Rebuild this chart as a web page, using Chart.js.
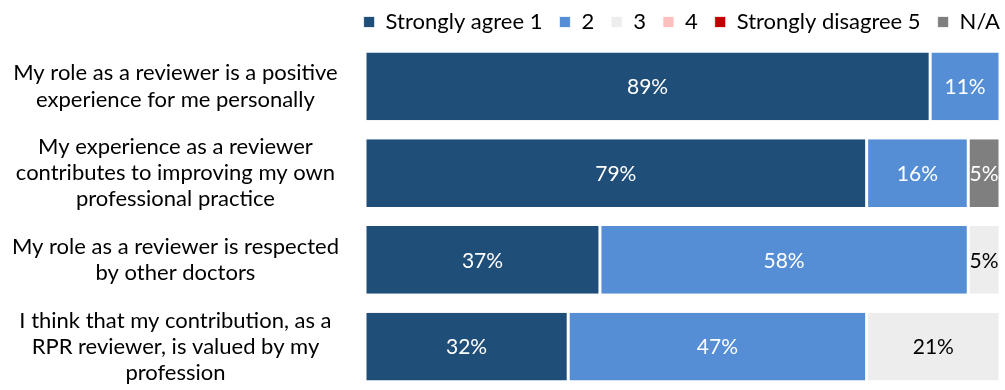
<!DOCTYPE html>
<html>
<head>
<meta charset="utf-8">
<script src="https://cdn.jsdelivr.net/npm/chart.js@4"></script>
<style>
  html, body { margin: 0; padding: 0; background: #fff; }
  #wrap { width: 1005px; height: 390px; }
</style>
</head>
<body>
<div id="wrap"><canvas id="myChart"></canvas></div>
<script>
var ctx = document.getElementById('myChart');

// categories (multi-line labels)
const categories = [
  ['My role as a reviewer is a positive', 'experience for me personally'],
  ['My experience as a reviewer', 'contributes to improving my own', 'professional practice'],
  ['My role as a reviewer is respected', 'by other doctors'],
  ['I think that my contribution, as a', 'RPR reviewer, is valued by my', 'profession']
];

const seriesNames = ['Strongly agree 1', '2', '3', '4', 'Strongly disagree 5', 'N/A'];

// percentages per answer
const agree1 = [89, 79, 37, 32];
const agree2 = [11, 16, 58, 47];
const neutral3 = [0, 0, 5, 21];
const disagree4 = [0, 0, 0, 0];
const disagree5 = [0, 0, 0, 0];
const notApplicable = [0, 5, 0, 0];

const colors = ['#1F4E79', '#558ED5', '#EDEDED', '#FFBFBF', '#C00000', '#7F7F7F'];
const labelColors = ['#ffffff', '#ffffff', '#000000', '#000000', '#ffffff', '#ffffff'];

const allSeries = [agree1, agree2, neutral3, disagree4, disagree5, notApplicable];

const FONT = "Lato, 'Open Sans', sans-serif";
const LEGEND_PAD = 17;

var datasets = [];
for (let i = 0; i < allSeries.length; i++) {
  datasets.push({
    label: seriesNames[i],
    data: allSeries[i],
    backgroundColor: colors[i],
    borderColor: '#ffffff',
    borderWidth: {left: 1.5, right: 1.5, top: 0, bottom: 0},
    borderSkipped: false,
    barPercentage: 0.78,
    categoryPercentage: 1.0
  });
}

// draws the % labels inside bars
const barLabels = {
  id: 'barLabels',
  afterDatasetsDraw(chart) {
    const c = chart.ctx;
    c.save();
    c.font = '21px ' + FONT;
    c.textAlign = 'center';
    c.textBaseline = 'middle';
    chart.data.datasets.forEach(function(ds, i) {
      const meta = chart.getDatasetMeta(i);
      meta.data.forEach(function(bar, j) {
        const v = ds.data[j];
        if (!v) return;
        c.fillStyle = labelColors[i];
        const x = (bar.x + bar.base) / 2;
        c.fillText(v + '%', x, bar.y + 1);
      });
    });
    c.restore();
  }
};

// push legend flush to the right edge
const legendShift = {
  id: 'legendShift',
  afterLayout(chart) {
    if (!chart.legend) return;
    chart.legend.left += LEGEND_PAD;
    chart.legend.right += LEGEND_PAD;
  }
};

var myChart = new Chart(ctx, {
  type: 'bar',
  data: {
    labels: categories,
    datasets: datasets
  },
  plugins: [barLabels, legendShift],
  options: {
    indexAxis: 'y',
    responsive: true,
    maintainAspectRatio: false,
    animation: false,
    layout: {
      padding: {left: 0, right: 5, top: -6, bottom: 0}
    },
    plugins: {
      legend: {
        position: 'top',
        align: 'end',
        labels: {
          boxWidth: 11,
          boxHeight: 11,
          color: '#000',
          padding: LEGEND_PAD,
          font: {family: FONT, size: 22}
        }
      },
      tooltip: {enabled: false}
    },
    scales: {
      x: {
        stacked: true,
        min: 0,
        max: 100,
        display: false
      },
      y: {
        stacked: true,
        grid: {display: false},
        border: {display: false},
        afterFit: function(scale) {
          scale.width = 365;
          scale.paddingTop = 0;
          scale.paddingBottom = 0;
        },
        ticks: {
          crossAlign: 'center',
          color: '#000',
          padding: 18,
          font: {family: FONT, size: 22, lineHeight: 1.19}
        }
      }
    }
  }
});
</script>
</body>
</html>
